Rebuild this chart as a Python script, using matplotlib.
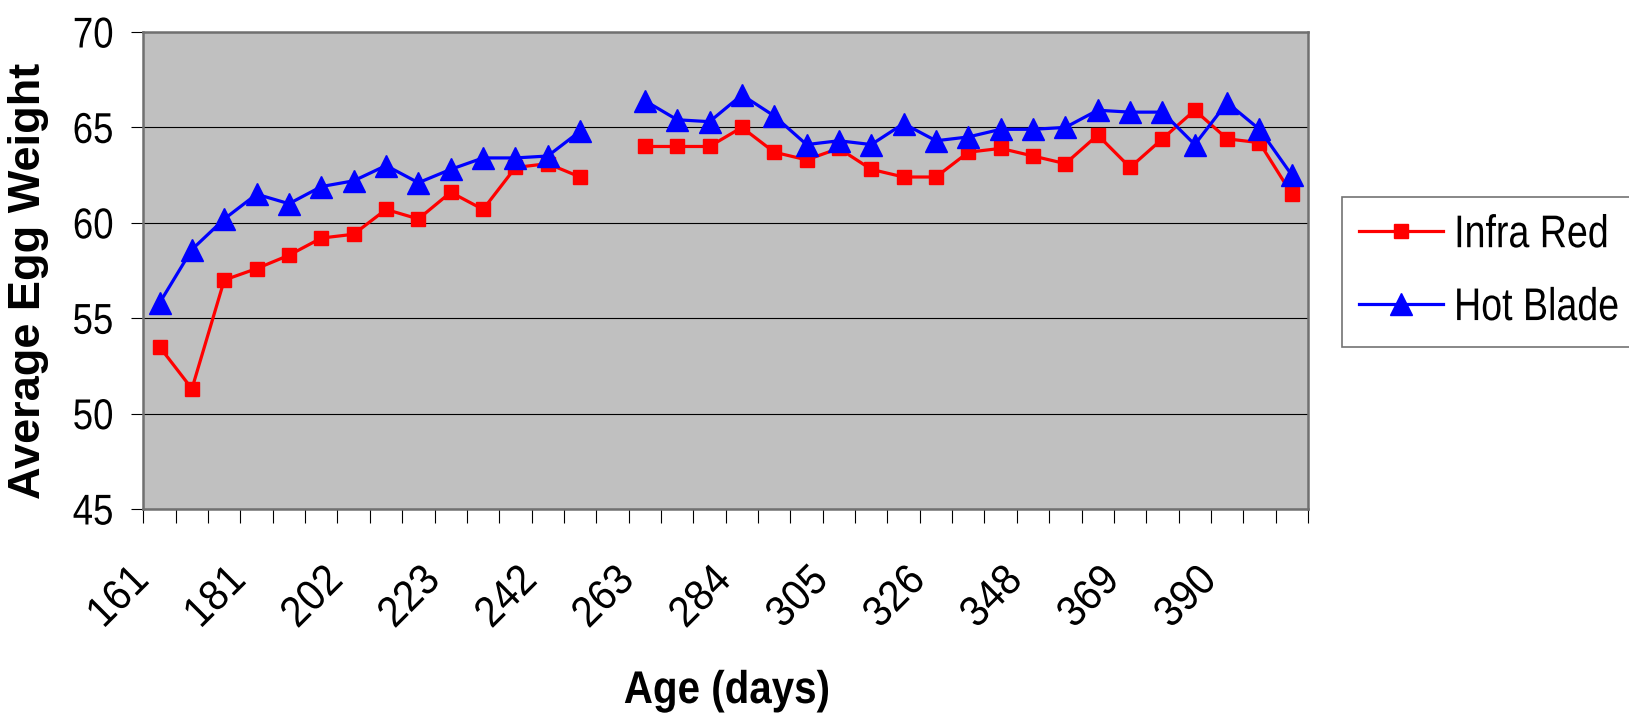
import numpy as np
import matplotlib
matplotlib.use("Agg")
import matplotlib.pyplot as plt
from matplotlib.patheffects import AbstractPathEffect
from matplotlib.transforms import Affine2D, ScaledTranslation

# Hen age for each weekly collection (only every third one is labelled).
ages = [161, 168, 174, 181, 188, 195, 202, 209, 216, 223, 229, 235,
        242, 249, 256, 263, 270, 277, 284, 291, 298, 305, 312, 319,
        326, 333, 340, 348, 355, 362, 369, 376, 383, 390, 397, 404]

# Average egg weight (g); nan = week with no data.
infra_red = [53.5, 51.3, 57.0, 57.6, 58.3, 59.2, 59.4, 60.7, 60.2, 61.6, 60.7, 62.9,
             63.1, 62.4, np.nan, 64.0, 64.0, 64.0, 65.0, 63.7, 63.3, 63.9, 62.8, 62.4,
             62.4, 63.7, 63.9, 63.5, 63.1, 64.6, 62.9, 64.4, 65.9, 64.4, 64.2, 61.5]
hot_blade = [55.8, 58.6, 60.2, 61.5, 61.0, 61.9, 62.2, 63.0, 62.1, 62.8, 63.4, 63.4,
             63.5, 64.8, np.nan, 66.4, 65.4, 65.3, 66.7, 65.6, 64.1, 64.3, 64.1, 65.2,
             64.3, 64.5, 64.9, 64.9, 65.0, 65.9, 65.8, 65.8, 64.1, 66.3, 64.9, 62.5]

yticks = [45, 50, 55, 60, 65, 70]
label_every = 3


class Narrow(AbstractPathEffect):
    """Squeeze glyphs sideways (no Arial Narrow here), keeping one edge fixed."""

    def __init__(self, sx, anchor=0.5):
        super().__init__()
        self.sx = sx
        self.anchor = anchor

    def draw_path(self, renderer, gc, tpath, affine, rgbFace=None):
        ext = tpath.get_extents()
        x0 = ext.x0 + self.anchor * ext.width
        squeeze = Affine2D().translate(-x0, 0).scale(self.sx, 1).translate(x0, 0)
        renderer.draw_path(gc, tpath, squeeze + affine, rgbFace)


plt.rcParams["font.family"] = ["Liberation Sans", "DejaVu Sans"]

DPI = 100
W, H = 1629, 714
fig = plt.figure(figsize=(W / DPI, H / DPI), dpi=DPI)
ax = fig.add_axes([143.4 / W, 1 - 509 / H, (1308 - 143.4) / W, (509 - 32) / H])
ax.set_facecolor("#C0C0C0")

x = np.arange(len(ages))
ax.plot(x, infra_red, color="#FF0000", lw=2.3, marker="s", ms=10.5,
        mec="#FF0000", mfc="#FF0000", label="Infra Red", zorder=3)
ax.plot(x, hot_blade, color="#0000FF", lw=2.3, marker="^", ms=15.5,
        mec="#0000FF", mfc="#0000FF", label="Hot Blade", zorder=4)

ax.set_xlim(-0.5, len(ages) - 0.5)
ax.set_ylim(45, 70)

# y axis
ax.set_yticks(yticks)
ax.yaxis.grid(True, color="black", lw=0.8)
ax.set_axisbelow(True)
ax.tick_params(axis="y", direction="out", length=8.4, width=0.8, color="black",
               pad=13, labelsize=31)
for lab in ax.get_yticklabels():
    lab.set_path_effects([Narrow(0.85, anchor=1.0)])

# x axis: tick marks between categories, labels on every third category
ax.set_xticks(np.arange(-0.5, len(ages)), minor=True)
ax.set_xticks(x[::label_every])
ax.set_xticklabels([str(a) for a in ages[::label_every]])
ax.tick_params(axis="x", which="minor", direction="out", length=10, width=0.8, color="black")
ax.tick_params(axis="x", which="major", length=0, pad=64, labelsize=31)
shift = ScaledTranslation(-40.5 / DPI, 0, fig.dpi_scale_trans)
for lab in ax.get_xticklabels():
    lab.set_rotation(45)
    lab.set_rotation_mode("anchor")
    lab.set_ha("center")
    lab.set_va("center")
    lab.set_transform(lab.get_transform() + shift)
    lab.set_path_effects([Narrow(0.93)])

for side in ["left", "right", "top", "bottom"]:
    ax.spines[side].set_color("#707070")
    ax.spines[side].set_linewidth(1.8)

ax.set_ylabel("Average Egg Weight", fontsize=32.5, fontweight="bold")
ax.yaxis.set_label_coords(28.9 / W, 1 - 280.5 / H, transform=fig.transFigure)
ax.yaxis.label.set_va("center")
ax.set_xlabel("Age (days)", fontsize=33, fontweight="bold")
ax.xaxis.set_label_coords(727 / W, 1 - 691 / H, transform=fig.transFigure)
ax.xaxis.label.set_va("center")
ax.xaxis.label.set_path_effects([Narrow(0.88)])

leg = ax.legend(loc="upper left", bbox_to_anchor=(1342 / W, 1 - 196.7 / H),
                bbox_transform=fig.transFigure, fontsize=33, frameon=True,
                fancybox=False, shadow=False, handlelength=1.84, handletextpad=0.23,
                borderpad=0.36, labelspacing=0.63, borderaxespad=0)
leg.get_frame().set_edgecolor("#505050")
leg.get_frame().set_linewidth(1.2)
for t in leg.get_texts():
    t.set_path_effects([Narrow(0.82, anchor=0.0)])

fig.savefig("out.png", dpi=DPI, facecolor="white")
